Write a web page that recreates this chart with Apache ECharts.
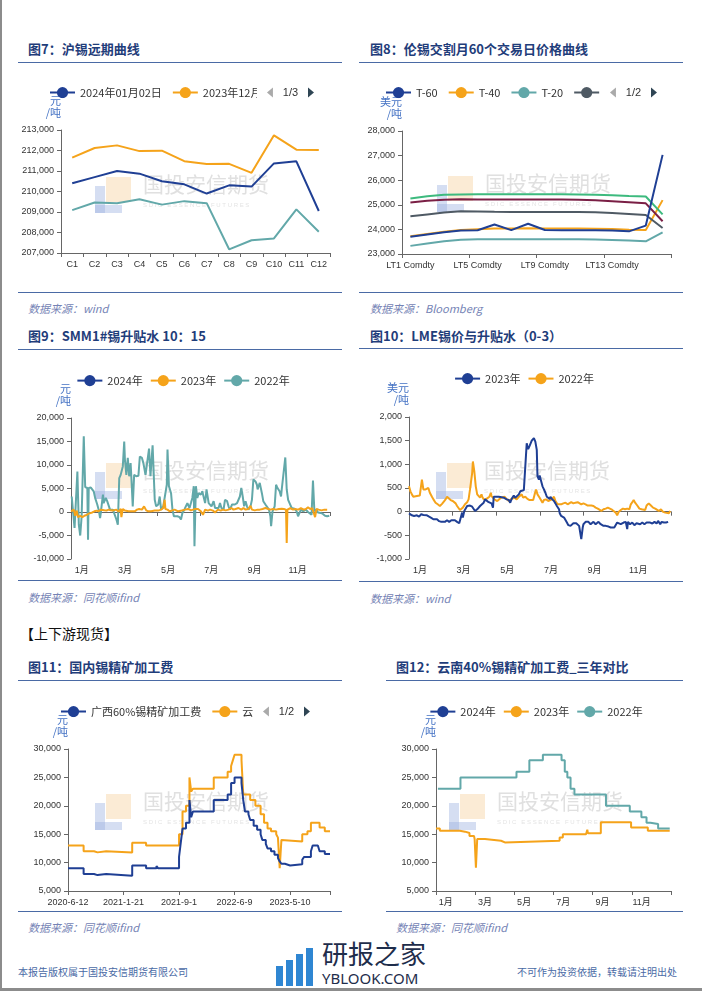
<!DOCTYPE html>
<html><head><meta charset="utf-8">
<script src="https://cdn.jsdelivr.net/npm/echarts@6/dist/echarts.min.js"></script>
<style>
body{margin:0;background:#fff;}
#page{position:relative;width:702px;height:991px;overflow:hidden;background:#fff;font-family:"Noto Sans CJK SC",sans-serif;}
.t{position:absolute;font-size:13px;font-weight:bold;color:#1f3d7a;line-height:16px;white-space:nowrap;}
.rule{position:absolute;height:0;border-top:1.5px solid #4a6aa5;}
.src{position:absolute;font-size:11px;font-style:italic;color:#7583b5;line-height:14px;white-space:nowrap;}
.c{position:absolute;}
.foot{position:absolute;font-size:10px;color:#4a6aa5;line-height:12px;white-space:nowrap;}
</style></head>
<body>
<div id="page">
  <div style="position:absolute;left:0;top:0;width:2px;height:991px;background:#8c8c8c"></div>
  <div style="position:absolute;left:0;top:988px;width:702px;height:3px;background:#8c8c8c"></div>

  <div class="t" style="left:28px;top:41px">图7：沪锡远期曲线</div>
  <div class="rule" style="left:18px;top:62px;width:324px"></div>
  <div id="c7" class="c" style="left:18px;top:70px;width:330px;height:215px"></div>
  <div class="rule" style="left:18px;top:292px;width:324px"></div>
  <div class="src" style="left:28px;top:301px">数据来源：wind</div>

  <div class="t" style="left:370px;top:41px">图8：伦锡交割月60个交易日价格曲线</div>
  <div class="rule" style="left:359px;top:62px;width:324px"></div>
  <div id="c8" class="c" style="left:359px;top:70px;width:330px;height:215px"></div>
  <div class="rule" style="left:359px;top:292px;width:324px"></div>
  <div class="src" style="left:370px;top:301px">数据来源：Bloomberg</div>

  <div class="t" style="left:28px;top:328px">图9：SMM1#锡升贴水 10：15</div>
  <div class="rule" style="left:18px;top:349px;width:324px"></div>
  <div id="c9" class="c" style="left:18px;top:360px;width:330px;height:215px"></div>
  <div class="rule" style="left:18px;top:580px;width:324px"></div>
  <div class="src" style="left:28px;top:590px">数据来源：同花顺ifind</div>

  <div class="t" style="left:370px;top:328px">图10：LME锡价与升贴水（0-3）</div>
  <div class="rule" style="left:359px;top:348px;width:324px"></div>
  <div id="c10" class="c" style="left:359px;top:360px;width:330px;height:215px"></div>
  <div class="rule" style="left:359px;top:581px;width:324px"></div>
  <div class="src" style="left:370px;top:591px">数据来源：wind</div>

  <div style="position:absolute;left:20px;top:624px;font-size:14px;line-height:18px;color:#111;white-space:nowrap">【上下游现货】</div>

  <div class="t" style="left:28px;top:659px">图11：国内锡精矿加工费</div>
  <div class="rule" style="left:18px;top:680px;width:324px"></div>
  <div id="c11" class="c" style="left:18px;top:690px;width:330px;height:218px"></div>
  <div class="rule" style="left:18px;top:911px;width:324px"></div>
  <div class="src" style="left:28px;top:920px">数据来源：同花顺ifind</div>

  <div class="t" style="left:396px;top:659px">图12：云南40%锡精矿加工费_三年对比</div>
  <div class="rule" style="left:386px;top:680px;width:297px"></div>
  <div id="c12" class="c" style="left:386px;top:690px;width:300px;height:218px"></div>
  <div class="rule" style="left:386px;top:911px;width:297px"></div>
  <div class="src" style="left:396px;top:920px">数据来源：同花顺ifind</div>

  <div class="foot" style="left:18px;top:966px">本报告版权属于国投安信期货有限公司</div>
  <div class="foot" style="left:517px;top:966px">不可作为投资依据，转载请注明出处</div>

  <div style="position:absolute;left:276px;top:966px;width:7px;height:20px;background:#2f86d2"></div>
  <div style="position:absolute;left:286px;top:960px;width:7px;height:26px;background:#2f86d2"></div>
  <div style="position:absolute;left:296px;top:954px;width:7px;height:32px;background:#2f86d2"></div>
  <div style="position:absolute;left:306px;top:948px;width:7px;height:38px;background:#2f86d2"></div>
  <div style="position:absolute;left:322px;top:938px;font-size:26px;line-height:30px;color:#1e2d4b;white-space:nowrap">研报之家</div>
  <div style="position:absolute;left:322px;top:970px;font-size:15px;line-height:17px;color:#1e2d4b;white-space:nowrap;font-family:'Noto Sans',sans-serif">YBLOOK.COM</div>
</div>
<script>
// ---------- data ----------
const months = ['1月','2月','3月','4月','5月','6月','7月','8月','9月','10月','11月','12月'];

// Fig 7
const fwdCats = ['C1','C2','C3','C4','C5','C6','C7','C8','C9','C10','C11','C12'];
const fwd20240102 = [210400,210700,211000,210870,210500,210350,209900,210300,210240,211370,211470,209050];
const fwd20231229 = [211650,212120,212250,211970,211990,211480,211340,211350,210910,212740,212040,212020];
const fwd20231130 = [209090,209460,209430,209620,209360,209530,209430,207180,207620,207710,209130,208040];

// Fig 8
const lmeCats = ['LT1 Comdty','LT2 Comdty','LT3 Comdty','LT4 Comdty','LT5 Comdty','LT6 Comdty','LT7 Comdty','LT8 Comdty','LT9 Comdty','LT10 Comdty','LT11 Comdty','LT12 Comdty','LT13 Comdty','LT14 Comdty','LT15 Comdty','LT16 Comdty'];
const t60 = [23700,23790,23880,23960,23965,24200,23970,24230,23975,23970,23970,23970,23955,23920,24155,27030];
const t40 = [23720,23810,23900,23975,24005,24035,24035,24045,24040,24040,24035,24030,24020,23990,23975,25190];
const t20 = [23330,23430,23520,23580,23600,23600,23600,23600,23600,23600,23600,23590,23570,23545,23515,23880];
const t10 = [24530,24610,24690,24735,24725,24715,24710,24710,24710,24710,24705,24695,24670,24630,24585,24060];
const t5  = [25090,25160,25210,25225,25220,25220,25220,25220,25220,25215,25205,25180,25140,25100,25060,24330];
const t1  = [25255,25350,25410,25420,25430,25430,25430,25430,25430,25425,25420,25405,25385,25355,25335,24610];

// Fig 9 (day of year, 元/吨)
const smm2024 = [];
const smm2023 = [[0,150],[4,500],[6,-800],[8,300],[10,-1100],[13,-800],[16,-1100],[19,-800],[22,-600],[25,-350],[27,-200],[30,-100],[33,150],[36,300],[39,150],[42,500],[44,150],[47,350],[50,300],[53,500],[56,350],[59,300],[61,650],[64,500],[67,100],[70,650],[71,-1100],[73,650],[76,300],[78,150],[81,150],[85,150],[90,150],[93,500],[96,650],[98,1000],[100,500],[103,1200],[106,350],[109,150],[113,150],[118,300],[123,300],[127,500],[130,850],[132,2600],[133,650],[136,500],[139,150],[143,350],[146,500],[151,150],[156,300],[161,500],[165,650],[169,350],[172,500],[175,650],[177,350],[179,650],[183,150],[186,-600],[189,500],[193,300],[196,500],[200,300],[203,-100],[207,500],[211,300],[214,500],[218,350],[222,500],[226,850],[229,500],[232,650],[236,850],[240,500],[243,850],[246,500],[250,650],[253,1300],[255,500],[259,350],[263,500],[266,500],[270,650],[274,850],[278,650],[281,500],[285,650],[289,500],[293,650],[297,700],[300,650],[303,500],[304,-6600],[305,500],[309,800],[313,500],[316,650],[320,500],[324,800],[328,500],[331,650],[334,1000],[337,650],[340,800],[344,-1100],[346,650],[349,500],[353,350],[357,500],[361,500]];
const smm2022 = [[1,3300],[5,-3400],[7,-3000],[9,8600],[11,-2700],[13,-5000],[15,-900],[18,16100],[20,5300],[23,5100],[24,-5900],[25,5100],[28,5200],[32,4400],[34,3000],[37,1600],[39,500],[41,-1300],[42,-200],[45,3700],[46,1900],[49,3000],[51,2300],[52,2600],[55,500],[57,850],[59,500],[61,150],[64,-1600],[66,-2700],[68,7200],[70,7900],[73,9700],[75,15000],[76,11100],[78,7900],[80,11500],[82,7600],[84,10400],[85,7600],[87,1200],[89,7900],[92,7600],[95,7700],[97,11800],[100,11500],[102,10400],[105,7900],[110,13500],[112,7600],[115,14200],[118,2600],[120,1200],[123,1600],[125,3300],[127,500],[130,1200],[132,850],[135,5800],[136,13300],[138,5500],[141,4000],[143,500],[145,-900],[147,-600],[150,-900],[153,-1100],[155,-1600],[157,-200],[160,600],[162,850],[164,1900],[167,850],[169,1900],[171,3000],[173,5500],[174,-7300],[176,5500],[178,3000],[180,4000],[183,3700],[185,4400],[187,4000],[189,1900],[191,4800],[194,1900],[196,2300],[198,1200],[201,2300],[203,850],[205,1200],[208,850],[210,1900],[212,850],[215,500],[217,2600],[220,2300],[222,1200],[224,500],[227,1600],[229,1200],[231,1600],[234,1900],[236,2300],[238,3300],[240,5100],[242,3300],[244,1200],[246,2300],[248,1200],[250,500],[253,1200],[255,2600],[257,6900],[260,6500],[262,5800],[263,4800],[266,6200],[268,5800],[269,4000],[271,2300],[274,1600],[276,1200],[279,500],[281,-900],[282,-3000],[284,150],[287,1200],[289,5800],[291,5100],[294,4400],[296,3300],[297,4800],[302,11600],[304,4800],[306,2600],[308,1900],[311,850],[313,500],[315,700],[318,150],[320,-900],[322,-200],[324,500],[327,150],[329,-200],[331,500],[334,0],[336,-200],[339,-600],[341,6700],[343,150],[346,500],[348,-100],[352,-200],[355,-400],[358,-800],[361,-900],[364,-800]];

// Fig 10 (day of year, 美元/吨)
const lme2023 = [[0,-35],[4,-77],[7,-90],[11,-77],[14,-105],[17,-55],[20,-70],[22,-40],[25,-77],[28,-105],[31,-130],[34,-160],[36,-175],[39,-160],[42,-200],[45,-215],[47,-195],[50,-215],[53,-180],[56,-215],[59,-180],[61,-145],[64,-180],[67,-215],[70,-245],[72,-265],[74,-20],[75,-125],[77,15],[79,50],[81,120],[83,155],[85,130],[88,105],[90,65],[92,15],[95,50],[97,85],[99,120],[101,120],[104,190],[106,260],[108,245],[111,200],[113,225],[115,175],[117,85],[118,315],[120,330],[122,315],[125,315],[127,295],[129,305],[132,295],[134,270],[136,260],[139,245],[141,190],[143,270],[146,340],[148,295],[150,260],[153,365],[155,430],[157,455],[160,455],[162,470],[164,1445],[166,1320],[168,1390],[169,1430],[171,1500],[174,1555],[176,1480],[178,1305],[179,745],[181,675],[182,765],[184,760],[186,535],[188,470],[190,400],[192,315],[194,340],[196,270],[197,315],[199,270],[202,225],[204,175],[206,120],[209,50],[210,-35],[212,-90],[214,-77],[216,-125],[218,-160],[220,-230],[222,-285],[223,-315],[225,-300],[227,-285],[229,-245],[231,-265],[233,-245],[235,-285],[237,-300],[238,-265],[240,-580],[242,-335],[243,-265],[246,-215],[248,-245],[250,-215],[253,-265],[255,-245],[257,-215],[260,-265],[262,-230],[264,-215],[267,-265],[269,-285],[271,-300],[274,-300],[276,-265],[278,-315],[281,-335],[283,-300],[286,-335],[288,-335],[290,-230],[292,-215],[295,-265],[297,-230],[299,-230],[302,-215],[304,-370],[305,-215],[308,-265],[311,-230],[314,-285],[317,-245],[319,-285],[322,-265],[325,-230],[328,-265],[331,-230],[333,-265],[336,-230],[339,-250],[342,-215],[345,-250],[347,-195],[350,-265],[352,-215],[355,-230],[358,-230],[361,-215]];
const lme2022 = [[0,535],[2,430],[4,365],[6,315],[8,340],[11,330],[13,365],[15,340],[18,675],[20,470],[21,500],[23,470],[25,480],[27,500],[29,400],[32,315],[34,260],[37,190],[40,155],[43,120],[46,165],[48,190],[51,260],[53,315],[55,295],[58,245],[61,225],[63,225],[65,175],[67,120],[69,85],[71,35],[73,65],[75,85],[78,155],[81,200],[83,260],[85,470],[88,815],[89,1060],[91,850],[93,535],[95,365],[97,400],[99,295],[101,365],[102,315],[104,260],[106,225],[108,270],[110,260],[112,315],[114,400],[115,330],[117,295],[119,260],[121,270],[123,225],[125,260],[128,295],[130,270],[133,315],[136,270],[139,225],[142,260],[144,225],[147,295],[150,260],[153,315],[155,295],[157,365],[159,295],[162,315],[165,270],[168,245],[170,225],[173,245],[175,365],[177,470],[179,365],[182,295],[184,270],[186,190],[188,245],[191,260],[194,225],[196,225],[199,260],[202,315],[204,225],[207,155],[209,190],[212,155],[215,175],[218,190],[221,155],[223,175],[226,200],[229,175],[232,190],[235,200],[237,175],[240,155],[243,175],[246,155],[249,130],[251,120],[254,130],[257,120],[260,85],[263,65],[265,35],[268,15],[271,50],[274,65],[277,85],[279,70],[282,50],[285,15],[288,-20],[290,-77],[292,-5],[295,35],[298,65],[301,50],[304,65],[305,105],[307,50],[309,155],[311,200],[313,245],[315,190],[317,175],[318,130],[321,65],[324,50],[326,85],[329,35],[331,130],[334,175],[337,130],[340,85],[343,65],[345,50],[348,15],[351,50],[354,-5],[357,-20],[359,15],[362,-35],[364,15]];

// Fig 11 (observation index, 元/吨), step data
const tcTickLabels = ['2020-6-12','2021-1-21','2021-9-1','2022-6-9','2023-5-10'];
const tcGuangxi60 = [[0,9000],[9,8000],[15,7800],[17,8000],[22,7700],[37,9500],[45,9000],[51,9400],[52,9000],[64,11000],[65,13500],[66,16000],[68,17000],[70,21000],[71,18000],[72,19000],[84,21000],[92,22000],[94,24000],[96,25000],[100,24000],[101,21000],[102,19000],[104,18500],[105,17500],[107,16500],[109,15800],[111,15000],[112,14000],[114,13300],[115,12500],[117,12000],[119,11400],[121,10800],[122,10200],[123,9800],[125,9500],[128,9700],[135,10500],[136,11000],[140,12000],[141,13000],[144,12800],[145,12000],[148,11500],[151,11500]];
const tcYunnan40 = [[0,13000],[9,12000],[15,11800],[17,12000],[22,11800],[37,13500],[45,13000],[64,15000],[66,19000],[68,20000],[70,25000],[71,22500],[72,23000],[84,25000],[92,26000],[94,27000],[95,28000],[96,29000],[100,28000],[101,22000],[105,21000],[108,20000],[111,18500],[113,17000],[115,16000],[117,15500],[120,15000],[121,14400],[122,9000],[123,14000],[124,13700],[135,15000],[138,15500],[140,17000],[145,16200],[148,15500],[151,15500]];

// Fig 12 (day of year, 元/吨), step data
const yn2024 = [];
const yn2023 = [[0,16000],[6,15600],[37,15450],[45,15200],[52,14700],[59,15000],[60,14150],[62,9100],[64,14150],[76,14000],[78,14400],[79,13850],[101,13550],[107,13850],[192,14400],[197,15000],[233,15150],[235,15800],[236,15150],[256,17100],[303,16200],[329,15600],[363,15600]];
const yn2022 = [[3,23000],[38,25000],[125,26000],[145,28000],[166,29000],[195,28000],[200,26000],[204,25000],[209,23000],[215,22000],[264,20000],[301,19000],[319,18000],[327,17000],[333,16800],[345,16000],[363,16000]];

// ---------- styles ----------
const BLUE='#1f3f94', ORANGE='#f5a31a', TEAL='#62a8a9', GRAY='#4f5a64', MAROON='#7a1f45', GREEN='#3dba7e';
const FONT='"Liberation Sans","Noto Sans CJK SC",sans-serif';
const lab = {color:'#333', fontSize:9, fontFamily:FONT};
const axLine = {show:true, lineStyle:{color:'#666', width:1}};
const axTick = {show:true, length:4, lineStyle:{color:'#666'}};

function yAx(min,max,interval,name){
  return {type:'value',min,max,interval,name,nameLocation:'end',nameGap:11,
    nameTextStyle:{color:'#4472c4',fontSize:11,align:'right',lineHeight:12,fontFamily:'"Noto Sans CJK SC",sans-serif'},
    axisLine:axLine,axisTick:axTick,splitLine:{show:false},axisLabel:Object.assign({margin:7},lab)};
}
function leg(extra){
  return Object.assign({itemWidth:25,itemHeight:14,itemGap:10,
    textStyle:{fontSize:11,color:'#333',fontFamily:'"Noto Sans CJK SC",sans-serif'},
    pageIconColor:'#2f4554',pageIconInactiveColor:'#aaa',pageIconSize:10,
    pageTextStyle:{color:'#333',fontSize:11}}, extra);
}
function line(name,data,color,extra){
  return Object.assign({type:'line',name,data,symbol:'circle',showSymbol:false,
    lineStyle:{width:2,color},itemStyle:{color}}, extra||{});
}
function wm(tx,ty){
  const lx=tx-109, ly=ty-9;
  return [
    {type:'rect',left:lx+11,top:ly,shape:{width:25,height:25},style:{fill:'rgba(246,205,150,0.4)'},z:0},
    {type:'rect',left:lx,top:ly+9,shape:{width:10,height:27},style:{fill:'rgba(150,172,222,0.4)'},z:0},
    {type:'rect',left:lx,top:ly+28,shape:{width:27,height:8},style:{fill:'rgba(150,172,222,0.4)'},z:0},
    {type:'text',left:tx-61,top:ty-12,style:{text:'国投安信期货',fontSize:21,fill:'#e0e0e0',fontFamily:'"Noto Sans CJK SC",sans-serif'},z:0},
    {type:'text',left:tx-61,top:ty+16,style:{text:'S D I C   E S S E N C E   F U T U R E S',fontSize:6,fill:'#e4e4e4',fontFamily:FONT},z:0}
  ];
}
function monthAxes(){
  return [
    {type:'category',data:months,boundaryGap:true,axisLine:axLine,
     axisTick:Object.assign({interval:1},axTick),axisLabel:Object.assign({interval:1,margin:7},lab)},
    {type:'value',min:0,max:365,show:false}
  ];
}
function mk(id,opt){
  const c=echarts.init(document.getElementById(id),null,{renderer:'canvas'});
  opt.animation=false;
  c.setOption(opt);
}

// Fig 7
mk('c7',{
  graphic:wm(186,116),
  legend:leg({type:'scroll',left:26,top:12,width:265}),
  grid:{left:43,top:60,width:269,height:123},
  xAxis:{type:'category',data:fwdCats,boundaryGap:true,axisLine:axLine,axisTick:axTick,axisLabel:Object.assign({interval:0,margin:7},lab)},
  yAxis:yAx(207000,213000,1000,'元\n/吨'),
  series:[line('2024年01月02日',fwd20240102,BLUE),line('2023年12月29日',fwd20231229,ORANGE),line('2023年11月30日',fwd20231130,TEAL)]
});

// Fig 8
mk('c8',{
  graphic:wm(187,115),
  legend:leg({type:'scroll',left:21,top:12,width:272}),
  grid:{left:43,top:61,width:269,height:123},
  xAxis:{type:'category',data:lmeCats,boundaryGap:true,axisLine:axLine,
    axisTick:Object.assign({interval:3},axTick),axisLabel:Object.assign({interval:3,margin:7},lab)},
  yAxis:yAx(23000,28000,1000,'美元\n/吨'),
  series:[line('T-60',t60,BLUE,{z:5}),line('T-40',t40,ORANGE),line('T-20',t20,TEAL),line('T-10',t10,GRAY),line('T-5',t5,MAROON),line('T-1',t1,GREEN)]
});

// Fig 9
mk('c9',{
  graphic:wm(186,112),
  legend:leg({left:'center',top:10,itemGap:7}),
  grid:{left:53,top:58,width:259,height:142},
  xAxis:monthAxes(),
  yAxis:yAx(-10000,20000,5000,'元\n/吨'),
  series:[line('2024年',smm2024,BLUE,{xAxisIndex:1}),line('2023年',smm2023,ORANGE,{xAxisIndex:1,z:4}),line('2022年',smm2022,TEAL,{xAxisIndex:1,z:3})]
});

// Fig 10
mk('c10',{
  graphic:wm(186,112),
  legend:leg({left:'center',top:8,itemGap:7}),
  grid:{left:50,top:57,width:262,height:144},
  xAxis:monthAxes(),
  yAxis:yAx(-1000,2000,500,'美元\n/吨'),
  series:[line('2023年',lme2023,BLUE,{xAxisIndex:1,z:4}),line('2022年',lme2022,ORANGE,{xAxisIndex:1,z:3})]
});

// Fig 11
mk('c11',{
  graphic:wm(186,113),
  legend:leg({type:'scroll',left:37,top:11,width:250}),
  grid:{left:50,top:59,width:262,height:142},
  xAxis:{type:'value',min:0,max:151,interval:32,splitLine:{show:false},axisLine:axLine,axisTick:axTick,
    axisLabel:Object.assign({margin:7,formatter:v=>(v%32===0?(tcTickLabels[v/32]||''):'')},lab)},
  yAxis:yAx(5000,30000,5000,'元\n/吨'),
  series:[line('广西60%锡精矿加工费',tcGuangxi60,BLUE,{step:'end',z:4}),line('云南40%锡精矿加工费',tcYunnan40,ORANGE,{step:'end',z:3})]
});

// Fig 12
mk('c12',{
  graphic:wm(172,113),
  legend:leg({left:'center',top:11,itemGap:7}),
  grid:{left:50,top:59,width:235,height:142},
  xAxis:monthAxes(),
  yAxis:yAx(5000,30000,5000,'元\n/吨'),
  series:[line('2024年',yn2024,BLUE,{xAxisIndex:1,step:'end'}),line('2023年',yn2023,ORANGE,{xAxisIndex:1,step:'end'}),line('2022年',yn2022,TEAL,{xAxisIndex:1,step:'end'})]
});
</script>
</body></html>
